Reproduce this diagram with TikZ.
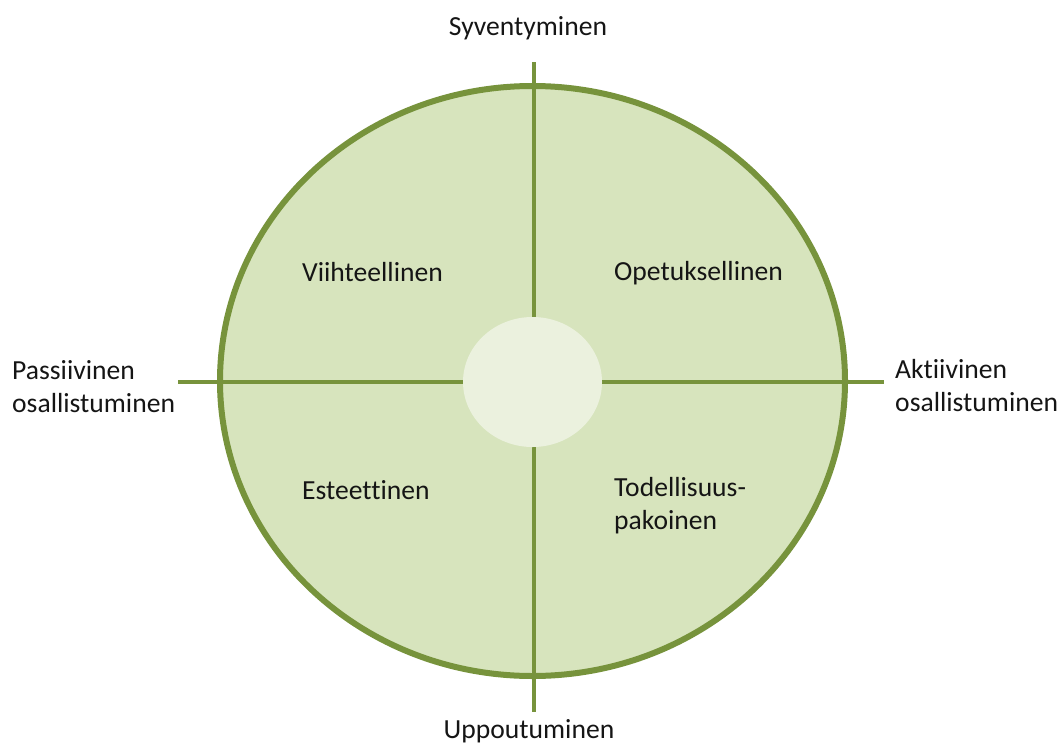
\documentclass[tikz,border=0pt]{standalone}
\usepackage{fontspec}
\setmainfont[RawFeature={-liga;-clig}]{Carlito}
\usetikzlibrary{shapes.geometric}
\definecolor{rim}{HTML}{77933C}
\definecolor{fillg}{HTML}{D7E4BD}
\definecolor{hub}{HTML}{EBF1DE}
\definecolor{txt}{HTML}{151515}
\begin{document}
\begin{tikzpicture}[x=1pt,y=-1pt,
  lbl/.style={inner sep=0pt, text=txt, font=\fontsize{27.6}{33}\selectfont, align=left},
  axis/.style={draw=rim, line width=4.5pt},
]
\useasboundingbox (0,0) rectangle (1064,744);
% main circle
\node[draw=rim, fill=fillg, line width=6pt, ellipse, minimum width=625pt, minimum height=590pt, inner sep=0pt] (circ) at (532.5,381) {};
% axis ends
\coordinate (top) at (534,62);
\coordinate (bot) at (534,712);
\coordinate (lft) at (178,382);
\coordinate (rgt) at (884,382);
\draw[axis] (top) -- (bot);
\draw[axis] (lft) -- (rgt);
% hub
\node[fill=hub, ellipse, minimum width=139pt, minimum height=130pt, inner sep=0pt] (hubn) at (532.5,382) {};
% labels
\node[lbl, anchor=center] (syv) at (528,28) {Syventyminen};
\node[lbl, anchor=center] (upp) at (529,731) {Uppoutuminen};
\node[lbl, anchor=west] (pas) at (12,387) {Passiivinen\\osallistuminen};
\node[lbl, anchor=west] (akt) at (895,386) {Aktiivinen\\osallistuminen};
\node[lbl, anchor=west] (vii) at (302,272) {Viihteellinen};
\node[lbl, anchor=west] (ope) at (614,273) {Opetuksellinen};
\node[lbl, anchor=west] (est) at (302,490) {Esteettinen};
\node[lbl, anchor=west] (tod) at (614,506) {Todellisuus-\\pakoinen};
\end{tikzpicture}
\end{document}
